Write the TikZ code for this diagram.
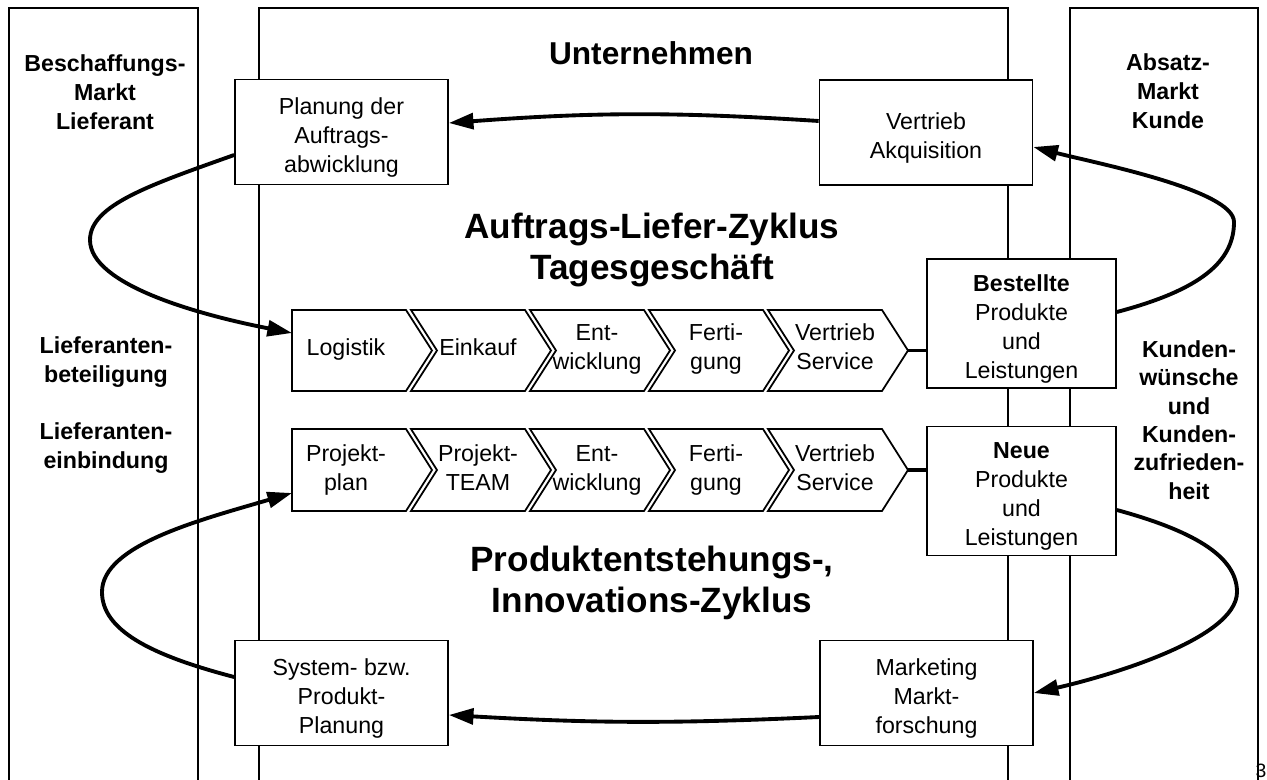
\documentclass[tikz,border=0pt]{standalone}
\usepackage{fontspec}
\setmainfont{Liberation Sans}
\usetikzlibrary{arrows.meta}
\newcommand{\boxtop}{\rule{0pt}{15.5pt}}

\begin{document}
\begin{tikzpicture}[x=0.02cm,y=-0.02cm,
  every node/.style={font=\fontsize{13.2}{16.5}\selectfont,align=center,inner sep=0pt},
  panel/.style={line width=1pt},
  box/.style={draw,line width=1pt,fill=white,minimum width=4.26cm,minimum height=2.1cm},
  resbox/.style={box,minimum width=3.78cm,minimum height=2.58cm},
  chev/.style={draw,line width=1pt,fill=white},
  sidetext/.style={font=\fontsize{13.2}{16.5}\selectfont\bfseries},
  cycletitle/.style={font=\fontsize{20}{23.5}\selectfont\bfseries},
  link/.style={line width=2.2pt},
  flow/.style={line width=2.2pt,-{Triangle[length=14pt,width=9pt]}}]
\useasboundingbox (0,0) rectangle (1267,780);

% Markt / Unternehmen / Markt
\draw[panel] (9,781) |- (198,8) -- (198,781);
\draw[panel] (259,781) |- (1008,8) -- (1008,781);
\draw[panel] (1070,781) |- (1258,8) -- (1258,781);

\node[sidetext] (beschaffung) at (105,92) {Beschaffungs-\\Markt\\Lieferant};
\node[sidetext] (beteiligung) at (106,362) {Lieferanten-\\beteiligung};
\node[sidetext] (einbindung) at (106,448) {Lieferanten-\\einbindung};
\node[sidetext] (absatz) at (1168,91) {Absatz-\\Markt\\Kunde};
\node[sidetext,font=\fontsize{13.2}{16.1}\selectfont\bfseries] (wuensche) at (1189,420)
  {Kunden-\\wünsche\\und\\Kunden-\\zufrieden-\\heit};

\node[font=\fontsize{18}{21}\selectfont\bfseries,anchor=base] (firma) at (651,65) {Unternehmen};
\node[cycletitle] (auftrag) at (652,250) {Auftrags-Liefer-Zyklus\\Tagesgeschäft};
\node[cycletitle] (innovation) at (652,583) {Produktentstehungs-,\\Innovations-Zyklus};

\node[box] (plan) at (341.5,132) {\boxtop Planung der\\Auftrags-\\abwicklung};
\node[box] (vakq) at (926,132.5) {\boxtop Vertrieb\\Akquisition};
\node[box] (sys) at (341.5,693) {\boxtop System- bzw.\\Produkt-\\Planung};
\node[box] (mkt) at (926.5,693) {\boxtop Marketing\\Markt-\\forschung};
\node[resbox] (best) at (1021.5,323.5) {\boxtop\textbf{Bestellte}\\Produkte\\und\\Leistungen};
\node[resbox] (neue) at (1021.5,491) {\boxtop\textbf{Neue}\\Produkte\\und\\Leistungen};

% Prozesskette Tagesgeschaeft
\foreach \x/\n/\nm/\txt in {292/0/lo/Logistik, 411/26/ek/Einkauf, 530/26/ew/{Ent-\\wicklung},
    649/26/fe/{Ferti-\\gung}, 768/26/vs/{Vertrieb\\Service}} {
  \draw[chev] (\x,310) -- ++(114,0) -- ++(26,40.5) -- ++(-26,40.5) -- ++(-114,0) -- ++(\n,-40.5) -- cycle;
  \node (\nm) at (\x+54+\n/2,349.5) {\strut\txt\strut};
  \coordinate (\nm-tip) at (\x+140,350.5);
}
% Prozesskette Innovation
\foreach \x/\n/\nm/\txt in {292/0/pp/{Projekt-\\plan}, 411/26/pt/{Projekt-\\TEAM}, 530/26/ew2/{Ent-\\wicklung},
    649/26/fe2/{Ferti-\\gung}, 768/26/vs2/{Vertrieb\\Service}} {
  \draw[chev] (\x,429) -- ++(114,0) -- ++(26,41) -- ++(-26,41) -- ++(-114,0) -- ++(\n,-41) -- cycle;
  \node (\nm) at (\x+54+\n/2,470) {\strut\txt\strut};
  \coordinate (\nm-tip) at (\x+140,470);
}
\coordinate (login) at (292,333);
\coordinate (ppin) at (292,493);

\draw[link] (vs-tip) -- (vs-tip -| best.west);
\draw[link] (vs2-tip) -- (vs2-tip -| neue.west);

% Auftrags-Liefer-Zyklus
\draw[flow] ([yshift=0.23cm]vakq.west) to[bend right=4] ([yshift=0.18cm]plan.east);
\draw[flow] ([yshift=-0.46cm]plan.west) .. controls (150,185) and (90,205) .. (90,240)
  .. controls (90,285) and (200,315) .. (login);
\draw[flow] ([yshift=0.23cm]best.east) .. controls (1200,290) and (1234,262) .. (1234,222)
  .. controls (1234,190) and (1095,163) .. ([yshift=-0.29cm]vakq.east);

% Innovations-Zyklus
\draw[flow] ([yshift=-0.48cm]mkt.west) to[bend left=3] ([yshift=-0.44cm]sys.east);
\draw[flow] ([yshift=0.32cm]sys.west) .. controls (150,655) and (102,630) .. (102,592)
  .. controls (102,545) and (200,520) .. (ppin);
\draw[flow] ([yshift=-0.38cm]neue.east) .. controls (1190,530) and (1237,555) .. (1237,592)
  .. controls (1237,640) and (1100,678) .. (mkt.east);

\node[font=\fontsize{11}{11}\selectfont,anchor=base] (seite) at (1261,777) {3};
\end{tikzpicture}
\end{document}
